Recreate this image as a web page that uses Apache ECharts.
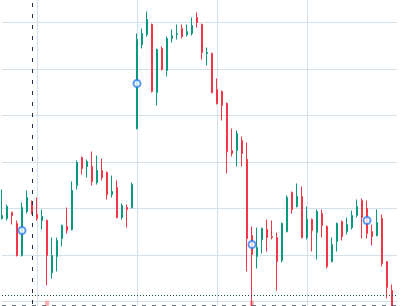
<!DOCTYPE html>
<html><head><meta charset="utf-8">
<script src="https://cdn.jsdelivr.net/npm/echarts@6/dist/echarts.min.js"></script>
<style>html,body{margin:0;padding:0;background:#fff;overflow:hidden}
#wrap{position:relative;width:402px;height:306px;overflow:hidden}
#c{position:absolute;left:0;top:-24px;width:402px;height:372px}</style>
</head><body><div id="wrap"><div id="c"></div></div>
<script>
const categories = Array.from({length: 80}, (_, i) => 'D' + (i + 1));
const opens = [117.85,117.85,119.14,116.77,109.89,119.35,121.51,118.71,117.42,117.42,
106.24,109.68,113.55,116.13,115.48,124.95,130.97,129.03,129.03,125.59,
128.17,127.74,123.01,124.52,118.06,120.22,120.22,137.20,155.27,157.42,
159.57,144.95,154.41,149.68,156.56,157.42,158.71,157.42,157.63,161.08,
159.57,153.33,153.33,145.59,145.16,142.58,132.47,132.47,134.62,130.54,
114.19,109.68,113.33,115.48,113.98,113.76,108.82,115.05,123.44,120.43,
122.58,113.76,117.63,114.84,118.92,116.13,108.60,112.90,117.20,115.05,
115.91,118.49,121.72,120.00,115.05,114.19,117.85,108.60,102.37];
const closes = [118.49,120.43,118.49,109.89,120.22,122.37,119.14,117.85,118.28,109.89,
109.89,113.12,116.34,115.27,123.87,129.89,128.60,130.11,125.81,128.17,
126.67,123.01,123.66,118.06,120.65,119.78,125.16,156.34,157.63,160.65,
145.16,154.19,149.89,156.56,157.20,157.63,156.99,158.06,159.35,160.00,
153.55,153.55,144.95,142.58,142.15,132.26,131.83,136.13,131.83,113.55,
110.11,111.61,115.70,113.76,113.76,108.60,116.77,122.37,119.78,122.58,
113.76,117.63,115.27,119.35,116.34,107.53,112.26,116.77,113.98,116.56,
118.49,120.43,118.06,114.62,113.98,116.99,108.17,103.01,98.06];
const lows = [117.63,117.42,116.56,109.68,109.68,118.92,118.71,117.42,115.48,103.44,
104.95,106.45,111.83,114.62,115.27,124.09,127.31,126.67,124.95,125.16,
126.02,121.94,122.37,117.85,117.63,115.91,120.00,136.99,154.41,156.99,
144.95,142.15,149.68,148.39,155.70,156.34,156.56,156.99,157.20,158.92,
152.04,150.75,144.73,142.37,138.92,127.53,131.18,129.03,129.03,106.45,
95.91,107.10,110.32,110.75,113.33,102.37,108.39,114.84,118.92,120.22,
113.55,113.33,110.75,109.03,113.76,107.10,108.39,110.75,113.12,114.41,
115.48,118.06,113.55,113.55,112.04,113.98,107.53,100.65,96.99];
const highs = [124.09,120.86,119.35,117.42,121.29,123.87,121.72,122.37,119.78,117.63,
113.76,113.76,116.56,120.22,125.81,130.32,131.18,130.54,132.26,131.40,
130.75,127.96,127.10,126.02,121.08,120.86,125.59,157.63,158.71,162.37,
159.78,154.41,154.84,156.99,158.49,159.57,159.57,159.57,161.08,162.15,
159.78,154.62,153.55,147.96,145.38,142.80,137.20,136.77,135.48,134.19,
116.13,115.91,115.91,117.63,117.42,114.84,116.99,122.80,123.66,125.38,
124.73,120.43,117.85,119.78,119.78,116.34,113.76,116.99,117.42,118.06,
119.57,121.94,122.15,121.72,116.56,119.78,118.71,108.60,103.66];
const markerIdx = [4, 27, 50, 73];
const markerVals = [115.27, 146.88, 112.26, 117.42];
const flagIdx = [9, 50];
const flagVals = [98.9, 98.9];
const vGridIdx = [7, 27, 43, 61];
const crossIdx = 6;
const crossVal = 99.14;
const lastPrice = 101.29;
const yMin = 90, yMax = 170, yInterval = 10;

const candles = categories.map((c, i) => i < opens.length ? [opens[i], closes[i], lows[i], highs[i]] : '-');
const chart = echarts.init(document.getElementById('c'), null, {renderer: 'canvas'});
chart.setOption({
  animation: false,
  grid: {left: 2, right: 5, top: 0, bottom: 0},
  xAxis: {
    type: 'category', data: categories, boundaryGap: false,
    axisLine: {show: false}, axisTick: {show: false}, axisLabel: {show: false},
    splitLine: {show: true, interval: (idx) => vGridIdx.includes(idx), lineStyle: {color: '#d5e1ea', width: 1}}
  },
  yAxis: {
    type: 'value', min: yMin, max: yMax, interval: yInterval,
    axisLine: {show: false}, axisTick: {show: false}, axisLabel: {show: false},
    splitLine: {show: true, lineStyle: {color: '#d5e1ea', width: 1}}
  },
  series: [
    {
      type: 'candlestick', data: candles, barWidth: 2, clip: false,
      itemStyle: {color: '#089981', color0: '#f23645', borderColor: '#089981', borderColor0: '#f23645', borderWidth: 1},
      markLine: {
        silent: true, symbol: 'none', label: {show: false}, animation: false,
        data: [
          {xAxis: categories[crossIdx], lineStyle: {color: '#1f2d4a', type: [4, 7], width: 1}},
          {yAxis: crossVal, lineStyle: {color: '#3c4650', type: [4, 6], width: 1.5}},
          {yAxis: lastPrice, lineStyle: {color: '#1b4d3e', type: [1, 2], width: 1}}
        ]
      }
    },
    {
      type: 'scatter', data: flagIdx.map((ix, k) => [ix, flagVals[k]]),
      symbol: 'rect', symbolSize: [4, 12], itemStyle: {color: '#f5a0a0'}, silent: true, z: 1
    },
    {
      type: 'scatter', data: markerIdx.map((ix, k) => [ix, markerVals[k]]),
      symbol: 'circle', symbolSize: 7, silent: true, z: 5,
      itemStyle: {color: '#ffffff', borderColor: '#2f80ed', borderWidth: 2}
    }
  ]
});
</script></body></html>
